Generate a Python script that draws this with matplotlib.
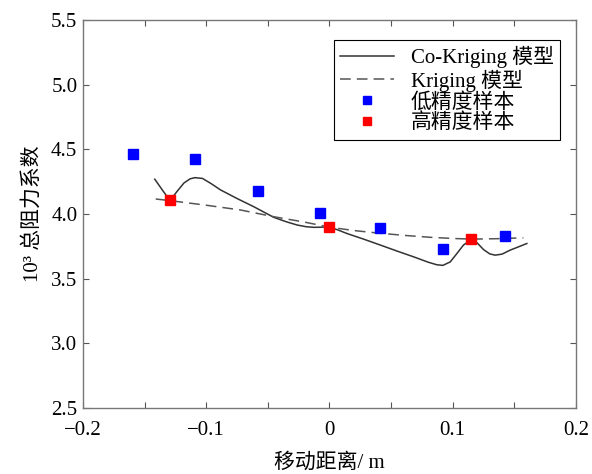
import numpy as np
import matplotlib
matplotlib.use("Agg")
import matplotlib.pyplot as plt
from matplotlib.ticker import MultipleLocator

plt.rcParams['font.family'] = ['Liberation Serif', 'Noto Sans CJK SC']
plt.rcParams['font.size'] = 15
plt.rcParams['axes.unicode_minus'] = True

# low fidelity samples
low_x = [-0.159, -0.109, -0.058, -0.008, 0.041, 0.092, 0.142]
low_y = [4.465, 4.425, 4.178, 4.008, 3.89, 3.73, 3.83]

# high fidelity samples
high_x = [-0.129, 0.0, 0.115]
high_y = [4.105, 3.90, 3.806]

# co-kriging curve
cok_x = [-0.1417, -0.1355, -0.1293, -0.1240, -0.1180, -0.1130, -0.1091, -0.1030,
         -0.0960, -0.0883, -0.0750, -0.0613, -0.0451, -0.0350, -0.0262, -0.0190,
         -0.0127, -0.0070, -0.0019, 0.0060, 0.0143, 0.0280, 0.0413, 0.0550,
         0.0683, 0.0800, 0.0870, 0.0920, 0.0980, 0.1030, 0.1087, 0.1155,
         0.1200, 0.1250, 0.1300, 0.1344, 0.1400, 0.1466, 0.1530, 0.1601]
cok_y = [4.269, 4.185, 4.103, 4.170, 4.240, 4.272, 4.281, 4.275,
         4.235, 4.186, 4.120, 4.056, 3.974, 3.940, 3.915, 3.902,
         3.897, 3.898, 3.901, 3.880, 3.849, 3.805, 3.760, 3.713,
         3.669, 3.628, 3.608, 3.603, 3.630, 3.690, 3.760, 3.806,
         3.775, 3.725, 3.692, 3.682, 3.690, 3.721, 3.745, 3.772]

# kriging curve
kr_x = [-0.1409, -0.129, -0.100, -0.0721, -0.0451, -0.020, 0.0008, 0.0200,
        0.0413, 0.0618, 0.0818, 0.1000, 0.1155, 0.1350, 0.1573]
kr_y = [4.116, 4.103, 4.068, 4.031, 3.979, 3.937, 3.897, 3.872,
        3.851, 3.834, 3.820, 3.811, 3.806, 3.809, 3.816]

fig = plt.figure(figsize=(5.92, 4.74), dpi=100)
ax = fig.add_axes([0.140, 0.139, 0.833, 0.819])

ax.plot(cok_x, cok_y, '-', color='#333333', lw=1.1, label='Co-Kriging 模型')
ax.plot(kr_x, kr_y, '--', color='#555555', lw=1.1, dashes=(7, 4), label='Kriging 模型')
ax.plot(low_x, low_y, 's', color='blue', ms=6.5, ls='none', label='低精度样本')
ax.plot(high_x, high_y, 's', color='red', ms=6.5, ls='none', label='高精度样本')

ax.set_xlim(-0.2, 0.2)
ax.set_ylim(2.5, 5.5)
ax.xaxis.set_minor_locator(MultipleLocator(0.05))
ax.set_xticks([-0.2, -0.1, 0, 0.1, 0.2])
ax.set_xticklabels(['\u22120.2', '\u22120.1', '0', '0.1', '0.2'])
ax.set_yticks([2.5, 3.0, 3.5, 4.0, 4.5, 5.0, 5.5])
ax.set_yticklabels(['2.5', '3.0', '3.5', '4.0', '4.5', '5.0', '5.5'])
ax.tick_params(which='both', direction='in', top=True, right=True,
               length=4, width=0.8, color='#555555', labelsize=15)
ax.tick_params(axis='x', pad=9)
ax.tick_params(axis='y', pad=4)

for s in ax.spines.values():
    s.set_color('#777777')
    s.set_linewidth(1.0)

ax.set_xlabel('移动距离/ m', fontsize=15, labelpad=10)
ax.set_ylabel('10³ 总阻力系数', fontsize=15, labelpad=6)

leg = ax.legend(loc='upper right', bbox_to_anchor=(0.968, 0.948), borderaxespad=0,
                fancybox=False, framealpha=1, edgecolor='black', fontsize=15,
                handlelength=2.6, handletextpad=0.8, labelspacing=0.05,
                borderpad=0.3, markerscale=0.8)
leg.get_frame().set_linewidth(0.8)

fig.savefig('out.png', dpi=100)
